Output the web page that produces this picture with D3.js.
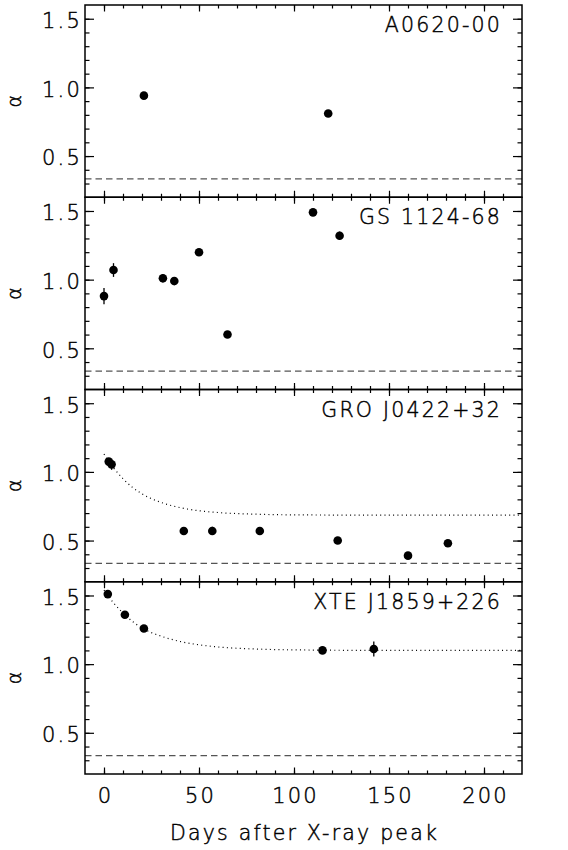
<!DOCTYPE html>
<html>
<head>
<meta charset="utf-8">
<script src="https://cdn.jsdelivr.net/npm/d3@7"></script>
<style>
  html, body { margin: 0; padding: 0; background: #fff; }
  svg { display: block; }
  text { font-family: "DejaVu Sans", "Liberation Sans", sans-serif; font-weight: 200; fill: #000; stroke: #000; stroke-width: 0.45px; }
</style>
</head>
<body>
<svg id="chart" width="568" height="850"></svg>
<script>
// ---------- data ----------
const panelNames = ["A0620-00", "GS 1124-68", "GRO J0422+32", "XTE J1859+226"];

const a0620Days  = [21, 118];
const a0620Alpha = [0.94, 0.81];
const a0620Err   = [0.01, 0.01];

const gs1124Days  = [0, 5, 31, 37, 50, 65, 110, 124];
const gs1124Alpha = [0.88, 1.07, 1.01, 0.99, 1.20, 0.60, 1.49, 1.32];
const gs1124Err   = [0.06, 0.05, 0.03, 0.03, 0.015, 0.015, 0.025, 0.03];

const gro0422Days  = [2.5, 4, 42, 57, 82, 123, 160, 181];
const gro0422Alpha = [1.075, 1.055, 0.57, 0.57, 0.57, 0.50, 0.39, 0.48];
const gro0422Err   = [0.02, 0.04, 0.015, 0.03, 0.015, 0.015, 0.015, 0.015];

const xte1859Days  = [2, 11, 21, 115, 142];
const xte1859Alpha = [1.51, 1.36, 1.26, 1.10, 1.11];
const xte1859Err   = [0.015, 0.015, 0.015, 0.015, 0.055];

// dotted fit curves
const groFitDays  = [0, 5, 10, 15, 20, 30, 40, 50, 60, 80, 100, 150, 220];
const groFitAlpha = [1.13, 1.03, 0.95, 0.887, 0.84, 0.778, 0.74, 0.717, 0.704, 0.692, 0.687, 0.685, 0.685];
const xteFitDays  = [0, 5, 10, 15, 20, 30, 40, 50, 60, 80, 100, 150, 220];
const xteFitAlpha = [1.54, 1.447, 1.372, 1.311, 1.263, 1.204, 1.165, 1.141, 1.125, 1.11, 1.104, 1.10, 1.10];

const refAlpha = 1 / 3;   // dashed reference line

const xTickMajor = [0, 50, 100, 150, 200];
const xTickMinor = [0,10,20,30,40,50,60,70,80,90,100,110,120,130,140,150,160,170,180,190,200,210];
const yTickMajor = [0.5, 1.0, 1.5];
const yTickMinor = [0.3,0.4,0.5,0.6,0.7,0.8,0.9,1.0,1.1,1.2,1.3,1.4,1.5];
const xLabel = "Days after X-ray peak";
const yLabel = "\u03b1";

// ---------- layout ----------
const plotL = 85, plotR = 522, plotT = 5, plotB = 774;
const nP = 4;
const pH = (plotB - plotT) / nP;

const svg = d3.select("#chart");
const x = d3.scaleLinear().domain([-10, 220]).range([plotL, plotR]);

const panels = [
  {name: panelNames[0], days: a0620Days, alpha: a0620Alpha, err: a0620Err},
  {name: panelNames[1], days: gs1124Days, alpha: gs1124Alpha, err: gs1124Err},
  {name: panelNames[2], days: gro0422Days, alpha: gro0422Alpha, err: gro0422Err, fitD: groFitDays, fitA: groFitAlpha},
  {name: panelNames[3], days: xte1859Days, alpha: xte1859Alpha, err: xte1859Err, fitD: xteFitDays, fitA: xteFitAlpha}
];

panels.forEach((p, i) => {
  const y0 = plotT + i * pH, y1 = y0 + pH;
  const y = d3.scaleLinear().domain([0.2, 1.6]).range([y1, y0]);
  const g = svg.append("g");

  // dashed reference line
  g.append("line")
    .attr("x1", plotL).attr("x2", plotR)
    .attr("y1", y(refAlpha)).attr("y2", y(refAlpha))
    .attr("stroke", "#555").attr("stroke-width", 1.2)
    .attr("stroke-dasharray", "6.5,4");

  // fit curve
  if (p.fitD) {
    const pts = p.fitD.map((d, k) => [d, p.fitA[k]]);
    g.append("path")
      .attr("d", d3.line().x(d => x(d[0])).y(d => y(d[1])).curve(d3.curveMonotoneX)(pts))
      .attr("fill", "none").attr("stroke", "#000").attr("stroke-width", 1.2)
      .attr("stroke-dasharray", "1,3.3");
  }

  // error bars
  p.days.forEach((d, k) => {
    g.append("line")
      .attr("x1", x(d)).attr("x2", x(d))
      .attr("y1", y(p.alpha[k] - p.err[k])).attr("y2", y(p.alpha[k] + p.err[k]))
      .attr("stroke", "#000").attr("stroke-width", 1.3);
  });
  // points
  g.selectAll("circle.pt").data(p.days.map((d, k) => [d, p.alpha[k]])).enter()
    .append("circle").attr("class", "pt")
    .attr("cx", d => x(d[0])).attr("cy", d => y(d[1])).attr("r", 4.3)
    .attr("fill", "#000");

  // axes ticks
  const styleAxis = sel => {
    sel.select(".domain").remove();
    sel.selectAll("line").attr("stroke", "#000").attr("stroke-width", 1.2);
  };
  g.append("g").attr("transform", `translate(${plotL},0)`)
    .call(d3.axisLeft(y).tickValues(yTickMinor).tickSize(-4.5).tickFormat(""))
    .call(styleAxis);
  const la = g.append("g").attr("transform", `translate(${plotL},0)`)
    .call(d3.axisLeft(y).tickValues(yTickMajor).tickSize(-9).tickPadding(6).tickFormat(d3.format(".1f")))
    .call(styleAxis);
  la.selectAll("text").attr("font-size", 21).attr("letter-spacing", 2.2)
    .attr("font-family", null).attr("fill", null).attr("dy", "0.42em").attr("x", -3);
  g.append("g").attr("transform", `translate(${plotR},0)`)
    .call(d3.axisRight(y).tickValues(yTickMinor).tickSize(-4.5).tickFormat(""))
    .call(styleAxis);
  g.append("g").attr("transform", `translate(${plotR},0)`)
    .call(d3.axisRight(y).tickValues(yTickMajor).tickSize(-9).tickFormat(""))
    .call(styleAxis);
  g.append("g").attr("transform", `translate(0,${y0})`)
    .call(d3.axisTop(x).tickValues(xTickMinor).tickSize(-3.5).tickFormat(""))
    .call(styleAxis);
  g.append("g").attr("transform", `translate(0,${y0})`)
    .call(d3.axisTop(x).tickValues(xTickMajor).tickSize(-6.5).tickFormat(""))
    .call(styleAxis);
  g.append("g").attr("transform", `translate(0,${y1})`)
    .call(d3.axisBottom(x).tickValues(xTickMinor).tickSize(-3.5).tickFormat(""))
    .call(styleAxis);
  const ba = g.append("g").attr("transform", `translate(0,${y1})`)
    .call(d3.axisBottom(x).tickValues(xTickMajor).tickSize(-6.5).tickPadding(14)
      .tickFormat(i === nP - 1 ? d3.format("d") : ""))
    .call(styleAxis);
  ba.selectAll("text").attr("font-size", 21).attr("letter-spacing", 2.2)
    .attr("font-family", null).attr("fill", null).attr("dx", "0.05em");

  // frame
  g.append("rect").attr("x", plotL).attr("y", y0).attr("width", plotR - plotL).attr("height", pH)
    .attr("fill", "none").attr("stroke", "#000").attr("stroke-width", 1.5);

  // title
  g.append("text").attr("x", plotR - 20).attr("y", y0 + 27)
    .attr("text-anchor", "end").attr("font-size", 20.5).attr("letter-spacing", 2.2)
    .text(p.name);

  // y label
  g.append("text")
    .attr("transform", `translate(21,${(y0 + y1) / 2}) rotate(-90)`)
    .attr("text-anchor", "middle").attr("font-size", 19)
    .text(yLabel);
});

svg.append("text").attr("x", (plotL + plotR) / 2 + 1).attr("y", 840)
  .attr("text-anchor", "middle").attr("font-size", 20.5).attr("letter-spacing", 2.2)
  .text(xLabel);
</script>
</body>
</html>
